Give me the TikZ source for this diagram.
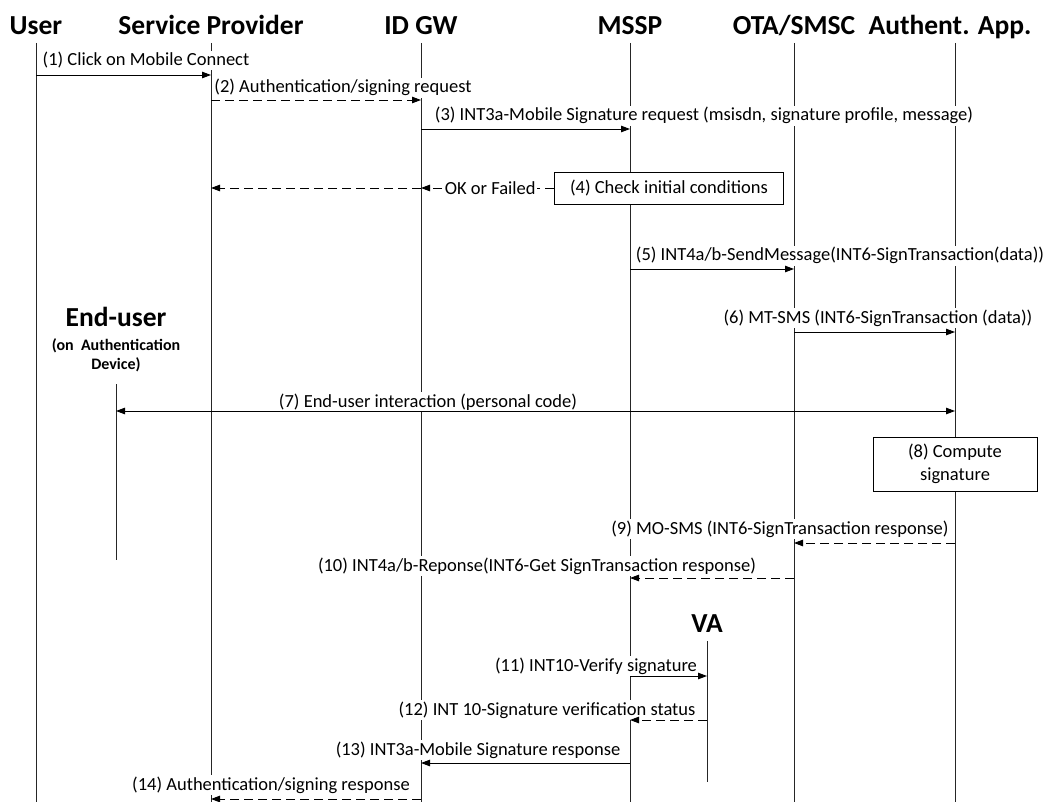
\documentclass[tikz,border=0pt]{standalone}
\usepackage{fontspec}
\setmainfont{Carlito}
\usetikzlibrary{arrows.meta}

\begin{document}
\begin{tikzpicture}[x=1pt, y=-1pt, line width=0.9pt,
    >={Triangle[length=9pt,width=6.5pt]},
    actor/.style={font=\fontsize{27.5}{32}\selectfont\bfseries, anchor=base, inner sep=0pt},
    lbl/.style={font=\fontsize{18.5}{22.5}\selectfont, anchor=base, fill=white, inner sep=1.5pt},
    life/.style={draw=black!85, line width=0.8pt},
    msg/.style={->},
    reply/.style={->, dash pattern=on 9pt off 5pt},
    box/.style={draw, fill=white, font=\fontsize{18.5}{22.5}\selectfont, align=center, inner sep=0pt}]
    \useasboundingbox (0,0) rectangle (1054,802);

    % Teilnehmer
    \node[actor] (user) at (36,35) {User};
    \node[actor] (sp) at (211,35) {Service Provider};
    \node[actor] (idgw) at (421,35) {ID GW};
    \node[actor] (mssp) at (630,35) {MSSP};
    \node[actor] (ota) at (794,35) {OTA/SMSC};
    \node[actor] (app) at (950,35) {Authent. App.};
    \node[actor] (enduser) at (116,326) {End-user};
    \node[font=\fontsize{16}{19}\selectfont\bfseries, align=center, inner sep=0pt] (device) at (116,355) {(on\ \ Authentication\\Device)};
    \node[actor] (va) at (707,632) {VA};

    % Lebenslinien
    \coordinate (top) at (0,43);
    \coordinate (bot) at (0,802);
    \coordinate (eutop) at (0,384);
    \coordinate (eubot) at (0,560);
    \coordinate (vatop) at (0,641);
    \coordinate (vabot) at (0,782);
    \coordinate (appline) at (955,43);
    \foreach \n in {user,sp,idgw,mssp,ota,appline}
        \draw[life] (\n |- top) -- (\n |- bot);
    \draw[life] (enduser |- eutop) -- (enduser |- eubot);
    \draw[life] (va |- vatop) -- (va |- vabot);

    % Nachrichten
    \coordinate (m1) at (0,75);
    \coordinate (m2) at (0,100);
    \coordinate (m3) at (0,129);
    \coordinate (m5) at (0,269);
    \coordinate (m6) at (0,332);
    \coordinate (m7) at (0,411);
    \coordinate (m9) at (0,543);
    \coordinate (m10) at (0,578);
    \coordinate (m11) at (0,676);
    \coordinate (m12) at (0,720);
    \coordinate (m13) at (0,763);
    \coordinate (m14) at (0,799);

    \node[lbl] (l1) at (146,66) {(1) Click on Mobile Connect};
    \draw[msg] (user |- m1) -- (sp |- m1);
    \node[lbl] (l2) at (343,93) {(2) Authentication/signing request};
    \draw[reply] (sp |- m2) -- (idgw |- m2);
    \node[lbl] (l3) at (704,121) {(3) INT3a-Mobile Signature request (msisdn, signature profile, message)};
    \draw[msg] (idgw |- m3) -- (mssp |- m3);

    \node[box, minimum width=229, minimum height=32] (chk) at (669,188) {(4) Check initial conditions};
    \draw[reply] (chk.west) -- node[lbl, anchor=center, pos=0.48] (okf) {OK or Failed} (idgw |- chk);
    \draw[reply] (idgw |- chk) -- (sp |- chk);

    \node[lbl] (l5) at (840,261) {(5) INT4a/b-SendMessage(INT6-SignTransaction(data))};
    \draw[msg] (mssp |- m5) -- (ota |- m5);
    \node[lbl] (l6) at (878,323) {(6) MT-SMS (INT6-SignTransaction (data))};
    \draw[msg] (ota |- m6) -- (appline |- m6);

    \draw[<->] (enduser |- m7) -- (appline |- m7);
    \node[lbl] (l7) at (428,407) {(7) End-user interaction (personal code)};

    \node[box, minimum width=164, minimum height=54] (sig) at (955,464) {(8) Compute\\signature};

    \node[lbl] (l9) at (780,534) {(9) MO-SMS (INT6-SignTransaction response)};
    \draw[reply] (appline |- m9) -- (ota |- m9);
    \node[lbl] (l10) at (537,571) {(10) INT4a/b-Reponse(INT6-Get SignTransaction response)};
    \draw[reply] (ota |- m10) -- (mssp |- m10);
    \node[lbl] (l11) at (596,671) {(11) INT10-Verify signature};
    \draw[msg] (mssp |- m11) -- (va |- m11);
    \node[lbl] (l12) at (547,715) {(12) INT 10-Signature verification status};
    \draw[reply] (va |- m12) -- (mssp |- m12);
    \node[lbl] (l13) at (478,755) {(13) INT3a-Mobile Signature response};
    \draw[msg] (mssp |- m13) -- (idgw |- m13);
    \node[lbl] (l14) at (271,790) {(14) Authentication/signing response};
    \draw[reply] (idgw |- m14) -- (sp |- m14);
\end{tikzpicture}
\end{document}
